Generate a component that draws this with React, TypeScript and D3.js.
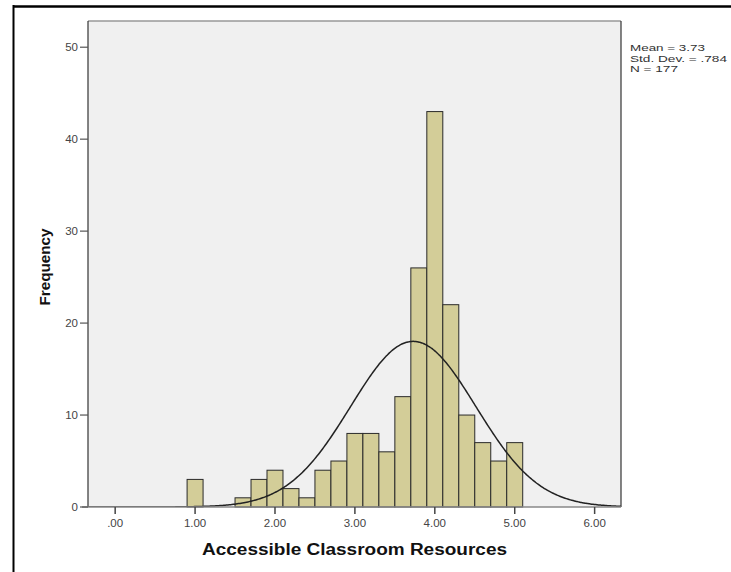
import React from "react";
import * as d3 from "d3";

const binStarts = [0.9, 1.5, 1.7, 1.9, 2.1, 2.3, 2.5, 2.7, 2.9, 3.1, 3.3, 3.5, 3.7, 3.9, 4.1, 4.3, 4.5, 4.7, 4.9];
const frequencies = [3, 1, 3, 4, 2, 1, 4, 5, 8, 8, 6, 12, 26, 43, 22, 10, 7, 5, 7];
const binWidth = 0.2;
const xTicks = [0, 1, 2, 3, 4, 5, 6];
const xTickLabels = [".00", "1.00", "2.00", "3.00", "4.00", "5.00", "6.00"];
const yTicks = [0, 10, 20, 30, 40, 50];
const statLines = ["Mean = 3.73", "Std. Dev. = .784", "N = 177"];
const statWidths = [75, 97, 48];
const mean = 3.73;
const sd = 0.784;
const n = 177;

export default function App() {
  const W = 731, H = 572;
  const left = 88, right = 621, top = 21, bottom = 507;
  const x = d3.scaleLinear().domain([-0.34, 6.33]).range([left, right]);
  const y = d3.scaleLinear().domain([0, 52.85]).range([bottom, top]);
  const dens = (v: number) => (n * binWidth) / (sd * Math.sqrt(2 * Math.PI)) * Math.exp(-0.5 * ((v - mean) / sd) ** 2);
  const pts = d3.range(0, 401).map((i) => -0.34 + (6.67 * i) / 400);
  const line = d3.line<number>().x((v) => x(v)).y((v) => y(dens(v))).curve(d3.curveBasis);
  const font = "Liberation Sans, Arial, sans-serif";
  return (
    <svg width={W} height={H} style={{ position: "absolute", left: 0, top: 0, background: "#fff" }}>
      <rect x={0} y={0} width={W} height={H} fill="#fff" />
      {/* outer frame */}
      <line x1={13} y1={6.5} x2={W} y2={6.5} stroke="#000" strokeWidth={2.5} />
      <line x1={13.5} y1={5} x2={13.5} y2={H} stroke="#000" strokeWidth={2} />
      {/* plot area */}
      <rect x={left} y={top} width={right - left} height={bottom - top} fill="#f0f0f0" />
      <clipPath id="pc">
        <rect x={left} y={top} width={right - left} height={bottom - top} />
      </clipPath>
      {binStarts.map((s, i) => (
        <rect
          key={i}
          x={x(s)}
          y={y(frequencies[i])}
          width={x(s + binWidth) - x(s)}
          height={bottom - y(frequencies[i])}
          fill="#d3cd98"
          stroke="#2a2a2a"
          strokeWidth={1}
        />
      ))}
      <path d={line(pts) || ""} fill="none" stroke="#222" strokeWidth={1.5} clipPath="url(#pc)" />
      {/* plot borders */}
      <line x1={left} y1={top} x2={right} y2={top} stroke="#999" strokeWidth={1.5} />
      <line x1={right} y1={top} x2={right} y2={bottom} stroke="#333" strokeWidth={1.2} />
      <line x1={left} y1={top} x2={left} y2={bottom} stroke="#333" strokeWidth={1.2} />
      <line x1={left - 6} y1={bottom} x2={right} y2={bottom} stroke="#888" strokeWidth={1.5} />
      {/* y axis */}
      {yTicks.map((t) => (
        <g key={t}>
          <line x1={left - 8} y1={y(t)} x2={left} y2={y(t)} stroke="#555" strokeWidth={1.2} />
          <text x={left - 10} y={y(t) + 4} textAnchor="end" fontSize={11.5} fill="#444" fontFamily={font}>
            {t}
          </text>
        </g>
      ))}
      {/* x axis */}
      {xTicks.map((t, i) => (
        <g key={t}>
          <line x1={x(t)} y1={bottom} x2={x(t)} y2={bottom + 7} stroke="#444" strokeWidth={1.5} />
          <text x={x(t)} y={bottom + 20} textAnchor="middle" fontSize={11.5} fill="#444" fontFamily={font}>
            {xTickLabels[i]}
          </text>
        </g>
      ))}
      <text
        x={(left + right) / 2}
        y={555}
        textAnchor="middle"
        fontSize={16}
        fontWeight="bold"
        fill="#111"
        fontFamily={font}
        textLength={305}
        lengthAdjust="spacingAndGlyphs"
      >
        Accessible Classroom Resources
      </text>
      <text
        transform={`translate(50, 267) rotate(-90)`}
        textAnchor="middle"
        fontSize={14}
        fontWeight="bold"
        fill="#111"
        fontFamily={font}
        textLength={77}
        lengthAdjust="spacingAndGlyphs"
      >
        Frequency
      </text>
      {statLines.map((s, i) => (
        <text
          key={i}
          x={630}
          y={51 + i * 10.5}
          fontSize={9}
          fill="#333"
          fontFamily={font}
          textLength={statWidths[i]}
          lengthAdjust="spacingAndGlyphs"
        >
          {s}
        </text>
      ))}
    </svg>
  );
}
